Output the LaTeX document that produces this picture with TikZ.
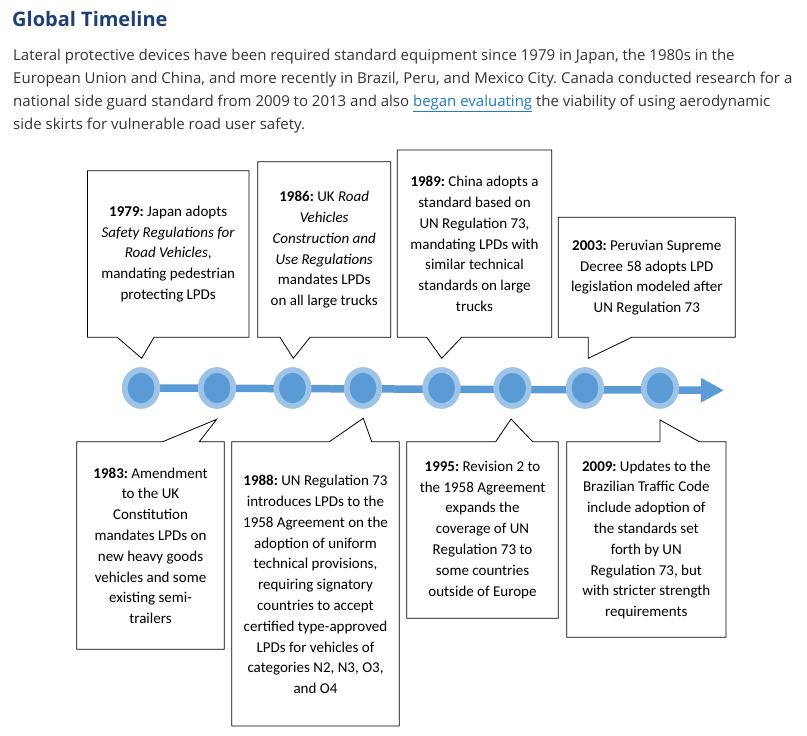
\documentclass[tikz,border=0pt]{standalone}
\usepackage{fontspec}
\setmainfont{Carlito}
\newfontfamily\webfont{Open Sans}
\usetikzlibrary{shapes.geometric,arrows.meta,backgrounds}
\definecolor{dotlight}{HTML}{9DC3E6}
\definecolor{dotdark}{HTML}{5B9BD5}
\definecolor{titleblue}{HTML}{1F3F77}
\definecolor{bodygrey}{HTML}{333333}
\definecolor{linkblue}{HTML}{1F7BC6}
\frenchspacing

\begin{document}
\begin{tikzpicture}[
	x=1pt, y=-1pt,
	yeardot/.style={ ellipse, draw=dotlight, line width=5.7pt, fill=dotdark, inner sep=0pt, minimum width=32.5pt, minimum height=36pt },
	bubble/.style={ draw=black, line width=0.8pt, line join=miter, fill=white },
	bubbletext/.style={ align=center, inner sep=0pt, font=\fontsize{15}{20.8}\selectfont },
	bodyline/.style={ anchor=base west, inner sep=0pt, text=bodygrey, font=\webfont\fontsize{15}{23}\selectfont }
]

\useasboundingbox (0,0) rectangle (807,736);

% heading and intro text
\node[anchor=base west, inner sep=0pt, text=titleblue, font=\webfont\bfseries\fontsize{20}{24}\selectfont] at (12,26.7) (title) {Global Timeline};
\node[bodyline] at (13,60.5) (p1) {Lateral protective devices have been required standard equipment since 1979 in Japan, the 1980s in the};
\node[bodyline] at (13,83.5) (p2) {European Union and China, and more recently in Brazil, Peru, and Mexico City. Canada conducted research for a};
\node[bodyline] at (13,106.5) (p3) {national side guard standard from 2009 to 2013 and also \textcolor{linkblue}{\underline{began evaluating}} the viability of using aerodynamic};
\node[bodyline] at (13,129.5) (p4) {side skirts for vulnerable road user safety.};

% timeline
\foreach \x [count=\i] in {141,217,292.5,363,441.5,512.5,585,660}
	\node[yeardot] at (\x,388) (d\i) {};
\coordinate (tip) at (724,390.3);
\begin{scope}[on background layer]
	\draw[dotdark, line width=7.5pt, -{Triangle[length=23pt,width=23pt]}] (d1) -- (tip);
\end{scope}

% callouts above
\draw[bubble] (87.5,170.7) -- (249,170.7) -- (249,337.3) -- (154,337.3) -- (141.7,358.3) -- (117.3,337.3) -- (87.5,337.3) -- cycle;
\node[bubbletext] at (168.2,254) (y1979) {\textbf{1979:} Japan adopts\\\textit{Safety Regulations for}\\\textit{Road Vehicles},\\mandating pedestrian\\protecting LPDs};

\draw[bubble] (257.7,161.7) -- (390.7,161.7) -- (390.7,337.3) -- (310,337.3) -- (293.3,358.3) -- (280,337.3) -- (257.7,337.3) -- cycle;
\node[bubbletext] at (324.2,249.8) (y1986) {\textbf{1986:} UK \textit{Road}\\\textit{Vehicles}\\\textit{Construction and}\\\textit{Use Regulations}\\mandates LPDs\\on all large trucks};

\draw[bubble] (397.3,150) -- (551.7,150) -- (551.7,337.3) -- (461.7,337.3) -- (441.7,358.3) -- (426.7,337.3) -- (397.3,337.3) -- cycle;
\node[bubbletext] at (474.5,243.9) (y1989) {\textbf{1989:} China adopts a\\standard based on\\UN Regulation 73,\\mandating LPDs with\\similar technical\\standards on large\\trucks};

\draw[bubble] (558.3,217.3) -- (735.3,217.3) -- (735.3,337.3) -- (631.7,337.3) -- (588.3,358.3) -- (588.3,337.3) -- (558.3,337.3) -- cycle;
\node[bubbletext] at (646.8,277.6) (y2003) {\textbf{2003:} Peruvian Supreme\\Decree 58 adopts LPD\\legislation modeled after\\UN Regulation 73};

% callouts below
\draw[bubble] (76.7,441.7) -- (162.7,441.7) -- (216.7,419.3) -- (199.3,441.7) -- (224.3,441.7) -- (224.3,649.3) -- (76.7,649.3) -- cycle;
\node[bubbletext] at (150.5,545.7) (y1983) {\textbf{1983:} Amendment\\to the UK\\Constitution\\mandates LPDs on\\new heavy goods\\vehicles and some\\existing semi-\\trailers};

\draw[bubble] (231.7,441.7) -- (329.3,441.7) -- (363.3,418.3) -- (371.7,441.7) -- (399.3,441.7) -- (399.3,726) -- (231.7,726) -- cycle;
\node[bubbletext] at (315.5,584.5) (y1988) {\textbf{1988:} UN Regulation 73\\introduces LPDs to the\\1958 Agreement on the\\adoption of uniform\\technical provisions,\\requiring signatory\\countries to accept\\certified type-approved\\LPDs for vehicles of\\categories N2, N3, O3,\\and O4};

\draw[bubble] (406.7,441.7) -- (495.7,441.7) -- (511,419) -- (532.7,441.7) -- (558.3,441.7) -- (558.3,618.3) -- (406.7,618.3) -- cycle;
\node[bubbletext] at (482.5,529.8) (y1995) {\textbf{1995:} Revision 2 to\\the 1958 Agreement\\expands the\\coverage of UN\\Regulation 73 to\\some countries\\outside of Europe};

\draw[bubble] (566.7,441.7) -- (660,441.7) -- (660,420) -- (699.3,441.7) -- (726,441.7) -- (726,637.3) -- (566.7,637.3) -- cycle;
\node[bubbletext] at (646.3,539.8) (y2009) {\textbf{2009:} Updates to the\\Brazilian Traffic Code\\include adoption of\\the standards set\\forth by UN\\Regulation 73, but\\with stricter strength\\requirements};

\end{tikzpicture}
\end{document}
